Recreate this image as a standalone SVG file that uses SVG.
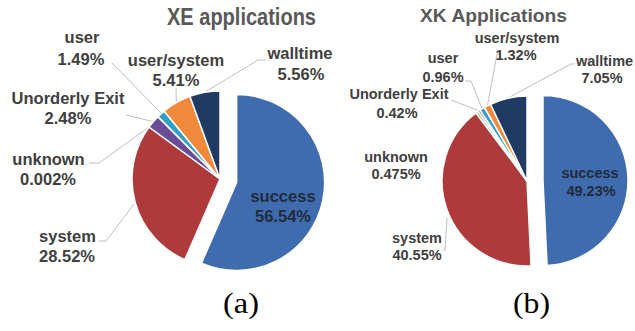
<svg xmlns="http://www.w3.org/2000/svg" width="635" height="331" viewBox="0 0 635 331">
<style>
.bg{fill:#ffffff}
.sl{stroke:#ffffff;stroke-width:1.5;stroke-linejoin:round}
.succ{fill:#3F6BAF}
.sys{fill:#AF3A3C}
.unk{fill:#9BBB59}
.uex{fill:#6B4C96}
.usr{fill:#31A0C2}
.uss{fill:#F08A3A}
.wt{fill:#213A63}
.title{font-family:"Liberation Sans",Arial,sans-serif;font-weight:bold;fill:#595959;text-anchor:middle}
.la{font-family:"Liberation Sans",Arial,sans-serif;font-weight:bold;font-size:16.5px;fill:#404040;text-anchor:middle}
.lb{font-family:"Liberation Sans",Arial,sans-serif;font-weight:bold;font-size:14.5px;fill:#404040;text-anchor:middle}
.in{fill:#222B3C}
.cap{font-family:"Liberation Serif","Times New Roman",serif;font-size:29px;fill:#000000;text-anchor:middle}
.ld{fill:none;stroke:#BFBFBF;stroke-width:1}
</style>
<rect class="bg" x="0" y="0" width="635" height="331"/>

<text class="title" x="241.5" y="25" font-size="23" textLength="149" lengthAdjust="spacingAndGlyphs">XE applications</text>
<text class="title" x="493.5" y="22" font-size="19" textLength="147" lengthAdjust="spacingAndGlyphs">XK Applications</text>

<g id="connectors">
<polyline class="ld" points="204.7,92.3 258,60 266,60"/>
<polyline class="ld" points="176,88 176.3,102"/>
<polyline class="ld" points="112,63 161,113"/>
<polyline class="ld" points="126,115 153,121.5"/>
<polyline class="ld" points="89,163 99,163 149,127"/>
<polyline class="ld" points="99,241 106,241 134,204"/>
<polyline class="ld" points="508,98 571,64 575,64"/>
<polyline class="ld" points="487.4,105.8 497,54 499,54"/>
<polyline class="ld" points="465,81 471,81 482.2,108.8"/>
<polyline class="ld" points="451,100 479.1,110.8"/>
<polyline class="ld" points="443,250 445,250 447,218"/>
</g>

<g id="a-success">
<path class="sl succ" d="M236.64,182.47 L236.64,94.47 A88,88 0 1,1 201.48,263.14 Z"/>
<text class="la in" x="283" y="202">success</text>
<text class="la in" x="283" y="222">56.54%</text>
</g>
<g id="a-system">
<path class="sl sys" d="M220,179 L184.84,259.67 A88,88 0 0,1 149,127 Z"/>
<text class="la" x="67.5" y="242">system</text>
<text class="la" x="67" y="262">28.52%</text>
</g>
<g id="a-unknown">
<text class="la" x="48.5" y="165">unknown</text>
<text class="la" x="48" y="185">0.002%</text>
</g>
<g id="a-unorderly">
<path class="sl uex" d="M220,179 L149,127 A88,88 0 0,1 157.94,116.61 Z"/>
<text class="la" x="68" y="104">Unorderly Exit</text>
<text class="la" x="68" y="124">2.48%</text>
</g>
<g id="a-user">
<path class="sl usr" d="M220,179 L157.94,116.61 A88,88 0 0,1 164.05,111.07 Z"/>
<text class="la" x="82" y="43">user</text>
<text class="la" x="81" y="65">1.49%</text>
</g>
<g id="a-usersystem">
<path class="sl uss" d="M220,179 L164.05,111.07 A88,88 0 0,1 189.89,96.32 Z"/>
<text class="la" x="176" y="66">user/system</text>
<text class="la" x="176" y="86">5.41%</text>
</g>
<g id="a-walltime">
<path class="sl wt" d="M220,179 L189.89,96.32 A88,88 0 0,1 220,91 Z"/>
<text class="la" x="300" y="59">walltime</text>
<text class="la" x="301" y="80">5.56%</text>
</g>

<g id="b-success">
<path class="sl succ" d="M543,180.6 L543,95.6 A85,85 0 0,1 547.11,265.5 Z"/>
<text class="lb in" x="590" y="178">success</text>
<text class="lb in" x="591" y="196">49.23%</text>
</g>
<g id="b-system">
<path class="sl sys" d="M527,181 L531.11,265.9 A85,85 0 0,1 476.08,112.93 Z"/>
<text class="lb" x="417" y="243">system</text>
<text class="lb" x="417" y="260">40.55%</text>
</g>
<g id="b-unknown">
<path class="sl unk" d="M527,181 L476.08,112.93 A85,85 0 0,1 478.15,111.44 Z"/>
<text class="lb" x="396" y="162">unknown</text>
<text class="lb" x="396" y="179">0.475%</text>
</g>
<g id="b-unorderly">
<path class="sl uex" d="M527,181 L478.15,111.44 A85,85 0 0,1 480,110.18 Z"/>
<text class="lb" x="399" y="99">Unorderly Exit</text>
<text class="lb" x="397" y="118">0.42%</text>
</g>
<g id="b-user">
<path class="sl usr" d="M527,181 L480,110.18 A85,85 0 0,1 484.36,107.47 Z"/>
<text class="lb" x="443" y="63">user</text>
<text class="lb" x="443" y="82">0.96%</text>
</g>
<g id="b-usersystem">
<path class="sl uss" d="M527,181 L484.36,107.47 A85,85 0 0,1 490.59,104.2 Z"/>
<text class="lb" x="517" y="43">user/system</text>
<text class="lb" x="516" y="60">1.32%</text>
</g>
<g id="b-walltime">
<path class="sl wt" d="M527,181 L490.59,104.2 A85,85 0 0,1 527,96 Z"/>
<text class="lb" x="604.5" y="66">walltime</text>
<text class="lb" x="602" y="83">7.05%</text>
</g>

<text class="cap" x="241" y="313" textLength="36" lengthAdjust="spacingAndGlyphs">(a)</text>
<text class="cap" x="531.5" y="313" textLength="37" lengthAdjust="spacingAndGlyphs">(b)</text>
</svg>
